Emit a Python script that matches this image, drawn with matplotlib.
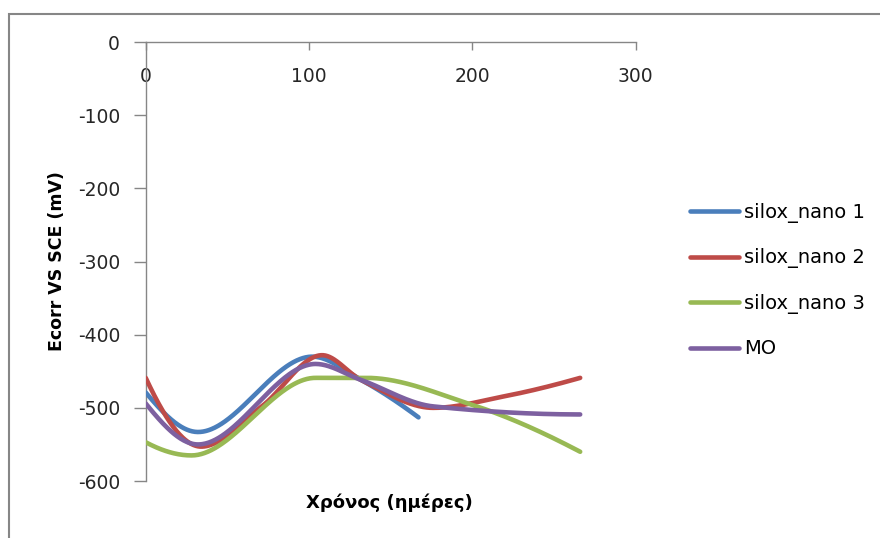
import numpy as np
import matplotlib
matplotlib.use("Agg")
import matplotlib.pyplot as plt
from matplotlib.patches import Rectangle

# Corrosion potential (mV vs SCE) against exposure time (days)
days_1 = [0, 32, 102, 132, 167]
ecorr_1 = [-479, -533, -430, -462, -513]

days_2 = [0, 34, 71, 108, 132, 176, 220, 266]
ecorr_2 = [-459, -553, -498, -428, -462, -500, -484, -459]

days_3 = [0, 28, 104, 135, 200, 266]
ecorr_3 = [-547, -565, -459, -459, -496, -560]

days_mo = [0, 32, 104, 132, 176, 266]
ecorr_mo = [-494, -550, -440, -462, -498, -509]

series_names = ["silox_nano 1", "silox_nano 2", "silox_nano 3", "MO"]
series_colors = ["#4A7EBB", "#BE4B48", "#98B954", "#7D60A0"]

x_ticks = [0, 100, 200, 300]
y_ticks = [0, -100, -200, -300, -400, -500, -600]

plt.rcParams["font.family"] = ["DejaVu Sans"]


def pchip(xs, ys, n=400):
    """Shape-preserving piecewise cubic (Fritsch-Carlson) through the points."""
    x = np.asarray(xs, float)
    y = np.asarray(ys, float)
    h = np.diff(x)
    s = np.diff(y) / h
    d = np.zeros_like(y)
    for k in range(1, len(x) - 1):
        if s[k - 1] * s[k] > 0:
            w1 = 2 * h[k] + h[k - 1]
            w2 = h[k] + 2 * h[k - 1]
            d[k] = (w1 + w2) / (w1 / s[k - 1] + w2 / s[k])

    def end(h0, h1, s0, s1):
        v = ((2 * h0 + h1) * s0 - h0 * s1) / (h0 + h1)
        if np.sign(v) != np.sign(s0):
            v = 0.0
        elif np.sign(s0) != np.sign(s1) and abs(v) > abs(3 * s0):
            v = 3 * s0
        return v

    if len(x) > 2:
        d[0] = end(h[0], h[1], s[0], s[1])
        d[-1] = end(h[-1], h[-2], s[-1], s[-2])
    else:
        d[:] = s[0]
    xx = np.linspace(x[0], x[-1], n)
    idx = np.clip(np.searchsorted(x, xx, side="right") - 1, 0, len(x) - 2)
    t = (xx - x[idx]) / h[idx]
    h00 = 2 * t ** 3 - 3 * t ** 2 + 1
    h10 = t ** 3 - 2 * t ** 2 + t
    h01 = -2 * t ** 3 + 3 * t ** 2
    h11 = t ** 3 - t ** 2
    yy = h00 * y[idx] + h10 * h[idx] * d[idx] + h01 * y[idx + 1] + h11 * h[idx] * d[idx + 1]
    return xx, yy


fig = plt.figure(figsize=(8.8, 5.38), dpi=100)
ax = fig.add_axes([0.1656, 0.1059, 0.7224 - 0.1656, 0.9219 - 0.1059])

# Outer chart frame
fig.patches.append(Rectangle((9 / 880, -0.1), 1.2, 1 - 14 / 538 + 0.1,
                             transform=fig.transFigure, fill=False,
                             edgecolor="#868686", linewidth=1.5))

data = [(days_1, ecorr_1), (days_2, ecorr_2), (days_3, ecorr_3), (days_mo, ecorr_mo)]
for (xs, ys), name, col in zip(data, series_names, series_colors):
    sx, sy = pchip(xs, ys)
    ax.plot(sx, sy, color=col, linewidth=3.3, label=name,
            solid_capstyle="round", zorder=3)

ax.set_xlim(0, 300)
ax.set_ylim(-600, 0)
ax.set_xticks(x_ticks)
ax.set_yticks(y_ticks)
ax.set_xticklabels([str(v) for v in x_ticks])
ax.set_yticklabels([str(v) for v in y_ticks])

axis_col = "#868686"
for side in ("bottom", "right"):
    ax.spines[side].set_visible(False)
for side in ("top", "left"):
    ax.spines[side].set_color(axis_col)
    ax.spines[side].set_linewidth(1.0)

ax.xaxis.set_ticks_position("top")
ax.tick_params(axis="x", direction="in", length=6, width=1, color=axis_col,
               labelsize=13.5, labelcolor="#262626", pad=-32)
ax.tick_params(axis="y", direction="out", length=9, width=1, color=axis_col,
               labelsize=13.5, labelcolor="#262626", pad=9.5)

ax.set_ylabel("Ecorr VS SCE (mV)", fontsize=12.5, fontweight="bold")
ax.yaxis.set_label_coords(-0.162, 0.5)
fig.text(389 / 880, 1 - 503 / 538, "Χρόνος (ημέρες)", fontsize=13,
         fontweight="bold", ha="center", va="center")

leg = fig.legend(loc="upper left", bbox_to_anchor=(690 / 880, 1 - 203 / 538),
                 frameon=False, fontsize=14, handlelength=2.5,
                 handletextpad=0.3, labelspacing=1.31, borderaxespad=0,
                 borderpad=0)
for line in leg.get_lines():
    line.set_linewidth(3.3)

fig.savefig("out.png", dpi=100)
